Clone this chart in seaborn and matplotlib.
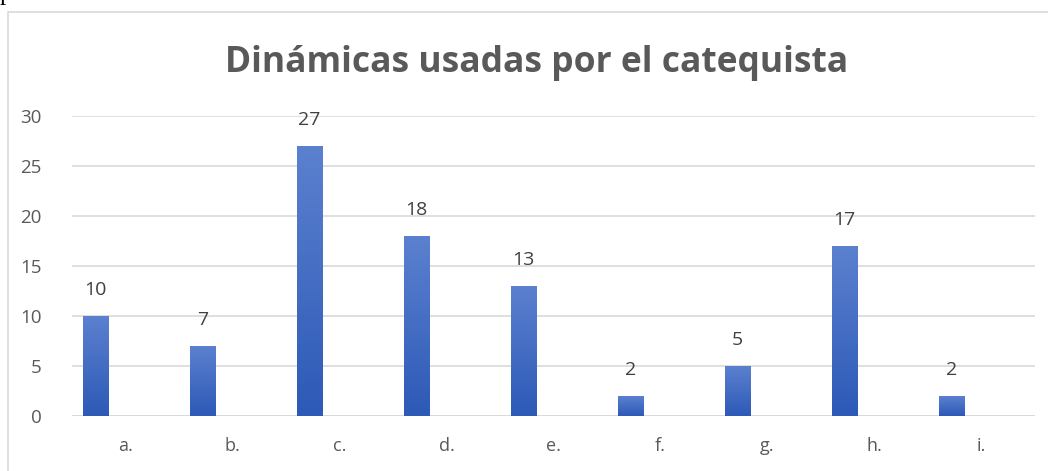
import numpy as np
import pandas as pd
import matplotlib
matplotlib.use('Agg')
import matplotlib.pyplot as plt
from matplotlib.patches import Rectangle
import seaborn as sns

categories = ['a.', 'b.', 'c.', 'd.', 'e.', 'f.', 'g.', 'h.', 'i.']
values = [10, 7, 27, 18, 13, 2, 5, 17, 2]
title = 'Dinámicas usadas por el catequista'

sns.set_theme(style='white')
plt.rcParams['font.family'] = ['Open Sans', 'DejaVu Sans']

# second empty series, like the Excel chart, so the bars sit left of the label
df = pd.concat([
    pd.DataFrame({'cat': categories, 'value': values, 'serie': 'Serie 1'}),
    pd.DataFrame({'cat': categories, 'value': [0] * len(categories), 'serie': 'Serie 2'}),
], ignore_index=True)

fig = plt.figure(figsize=(10.48, 4.71), dpi=100)
ax = fig.add_axes([0.0687, 0.1168, 0.9189, 0.6369])

sns.barplot(data=df, x='cat', y='value', hue='serie', hue_order=['Serie 1', 'Serie 2'],
            order=categories, width=1.12, gap=0.58, color='#4472c4', linewidth=0,
            legend=False, ax=ax)

ax.set_xlim(-0.5, len(categories) - 0.5)
ax.set_ylim(0, 30)

ax.bar_label(ax.containers[0], labels=[str(v) for v in values], padding=12,
             fontsize=14, color='#404040')

# gradient fill for each bar
grad = np.linspace(0, 1, 100).reshape(-1, 1)
cmap = matplotlib.colors.LinearSegmentedColormap.from_list('g', ['#2d5ab7', '#5b80cf'])
for p in list(ax.containers[0]):
    h = p.get_height()
    x0 = p.get_x()
    w = p.get_width()
    im = ax.imshow(grad, cmap=cmap, aspect='auto', extent=[x0, x0 + w, 0, h],
                   origin='lower', zorder=2)
    im.set_clip_path(p)
    p.set_facecolor('none')

ax.set_xlim(-0.5, len(categories) - 0.5)
ax.set_ylim(0, 30)
ax.set_yticks(range(0, 31, 5))
ax.yaxis.grid(True, color='#d9d9d9', linewidth=1.2)
ax.set_axisbelow(True)
for s in ax.spines.values():
    s.set_visible(False)
ax.axhline(0, color='#d9d9d9', linewidth=1.2, zorder=1)
ax.set_xlabel('')
ax.set_ylabel('')
ax.tick_params(axis='x', length=0, labelsize=13, colors='#595959', pad=15)
ax.tick_params(axis='y', length=0, labelsize=13.5, colors='#595959', pad=22)

fig.text(0.512, 0.866, title, ha='center', va='center', fontsize=25.5,
         fontweight='bold', color='#595959')

# chart border and the cut-off letter above it
fig.patches.append(Rectangle((8 / 1048, -0.05), 1.2, 1.05 - 12 / 471,
                             transform=fig.transFigure, fill=False,
                             edgecolor='#d9d9d9', linewidth=1.2))
fig.text(0.0, 1.0, 'p', fontsize=18, family='Liberation Serif', color='black',
         va='baseline', ha='left')

fig.savefig('out.png', dpi=100)
